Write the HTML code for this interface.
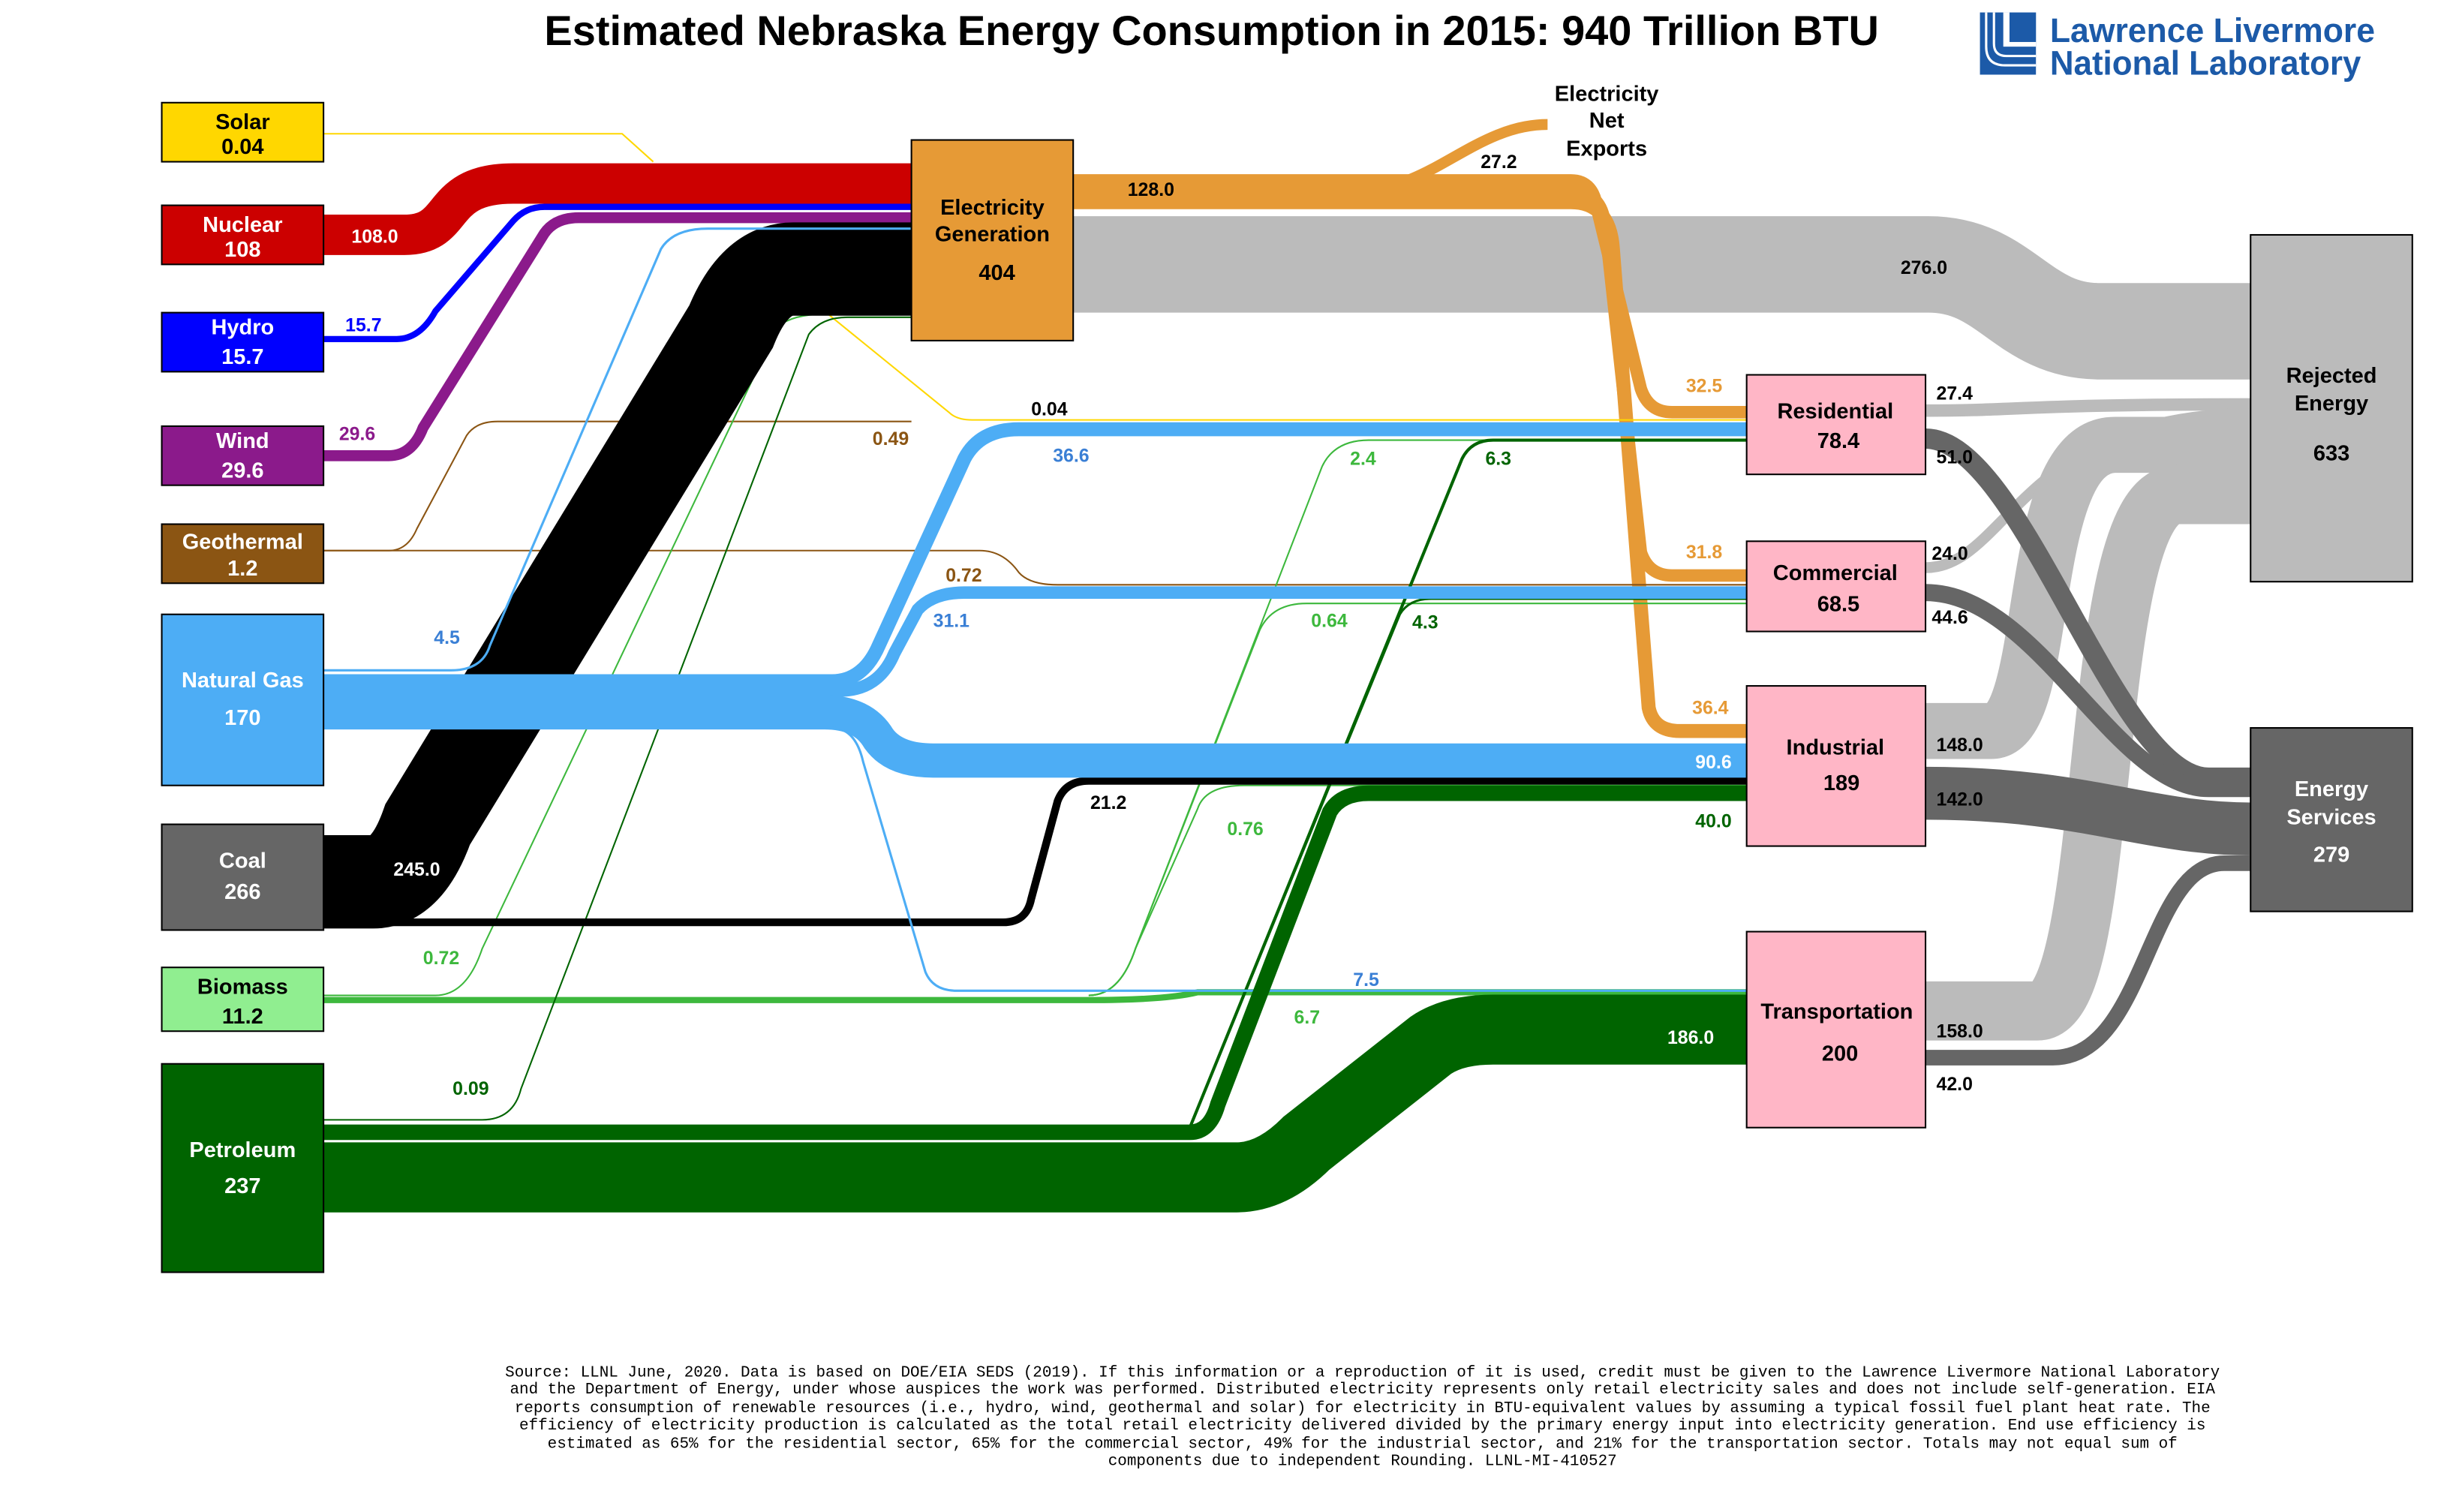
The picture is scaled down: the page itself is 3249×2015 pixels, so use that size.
<!DOCTYPE html>
<html><head><meta charset="utf-8"><style>
html,body{margin:0;padding:0;background:#fff}
svg{display:block}
text{font-family:"Liberation Sans",sans-serif;font-weight:bold}
</style></head><body>
<svg width="3249" height="2015" viewBox="0 0 1567.5 972" preserveAspectRatio="xMinYMin meet" xmlns="http://www.w3.org/2000/svg">
<rect width="1567.5" height="972" fill="#fff"/>
<text x="779" y="29" font-size="27" text-anchor="middle">Estimated Nebraska Energy Consumption in 2015: 940 Trillion BTU</text>
<!-- logo -->
<g fill="#1C5AA8">
<rect x="1273" y="8" width="36" height="40"/>
<rect x="1288" y="8" width="21" height="22" fill="#fff"/>
<rect x="1292" y="8" width="17" height="19" fill="#1C5AA8"/>
<path d="M1277 8v22q0 12 12 12h20" stroke="#fff" stroke-width="1.5" fill="none"/>
<path d="M1282 8v20q0 8 8 8h19" stroke="#fff" stroke-width="1.5" fill="none"/>
<text x="1318" y="27" font-size="22" textLength="209" lengthAdjust="spacingAndGlyphs">Lawrence Livermore</text>
<text x="1318" y="48" font-size="22" textLength="200" lengthAdjust="spacingAndGlyphs">National Laboratory</text>
</g>
<g fill="none" stroke-linecap="butt">
<path d="M690 170 H1240 C1290 170 1300 213 1350 213 H1447" stroke="#bbb" stroke-width="62"/>
<path d="M1238 264 C1300 264 1300 260 1447 260" stroke="#bbb" stroke-width="8"/>
<path d="M1238 365 C1290 365 1300 266 1447 266" stroke="#bbb" stroke-width="7"/>
<path d="M1238 470 H1280 C1320 470 1300 286 1360 286 H1447" stroke="#bbb" stroke-width="36"/>
<path d="M1238 650 H1310 C1360 650 1340 318 1400 318 H1447" stroke="#bbb" stroke-width="38"/>
<path d="M1238 282 C1300 282 1360 500 1420 500 H1447" stroke="#666" stroke-width="13"/>
<path d="M1238 381 C1310 381 1360 507 1420 507 H1447" stroke="#666" stroke-width="11"/>
<path d="M1238 510 C1340 510 1380 533 1447 533" stroke="#666" stroke-width="34"/>
<path d="M1238 680 H1320 C1380 680 1380 555 1430 555 H1447" stroke="#666" stroke-width="10"/>
<path d="M690 121 H880 C920 121 950 80 995 80" stroke="#E69A36" stroke-width="7"/>
<path d="M690 116 H1010 Q1025 116 1027 135 L1055 250 Q1060 265 1075 265 H1123" stroke="#E69A36" stroke-width="8"/>
<path d="M690 123 H1010 Q1030 123 1032 145 L1055 355 Q1060 370 1075 370 H1123" stroke="#E69A36" stroke-width="8"/>
<path d="M690 130 H1010 Q1035 130 1037 160 L1060 455 Q1063 470 1080 470 H1123" stroke="#E69A36" stroke-width="9"/>
<path d="M208 86 H400 L420 104" stroke="#FFD700" stroke-width="1"/>
<path d="M530 200 L610 265 Q615 270 625 270 H1123" stroke="#FFD700" stroke-width="1"/>
<path d="M208 151 H260 C295 151 280 118 330 118 H586" stroke="#CC0000" stroke-width="26"/>
<path d="M208 218 H255 Q270 218 280 200 L330 142 Q338 133 350 133 H586" stroke="#0000FF" stroke-width="4"/>
<path d="M208 293 H250 Q265 293 272 275 L350 150 Q357 140 372 140 H586" stroke="#8B1A8B" stroke-width="7"/>
<path d="M208 354 H250 Q262 354 268 340 L300 280 Q306 271 320 271 H586" stroke="#8B5513" stroke-width="1"/>
<path d="M208 354 H630 Q645 354 655 368 Q662 376 680 376 H1123" stroke="#8B5513" stroke-width="1"/>
<path d="M208 640 H280 Q300 640 310 610 L500 210 Q510 202 530 202 H586" stroke="#3DB83D" stroke-width="1"/>
<path d="M700 640 Q720 640 730 610 L850 300 Q858 283 880 283 H1123" stroke="#3DB83D" stroke-width="1"/>
<path d="M700 640 Q720 640 730 610 L810 405 Q818 388 840 388 H1123" stroke="#3DB83D" stroke-width="1"/>
<path d="M700 640 Q720 640 730 610 L770 520 Q775 505 800 505 H1123" stroke="#3DB83D" stroke-width="1"/>
<path d="M208 643 H700 Q750 643 770 638 H1123" stroke="#3DB83D" stroke-width="4"/>
<path d="M208 720 H310 Q330 720 335 700 L520 215 Q528 204 545 204 H586" stroke="#006400" stroke-width="1"/>
<path d="M765 725 L940 295 Q946 283 960 283 H1123" stroke="#006400" stroke-width="2"/>
<path d="M765 725 L900 395 Q906 385 920 385 H1123" stroke="#006400" stroke-width="1.5"/>
<path d="M208 567 H240 Q262 567 275 530 L470 210 Q485 173 510 173 H586" stroke="#000" stroke-width="60"/>
<path d="M208 593 H645 Q660 593 663 578 L680 515 Q685 502 700 502 H1123" stroke="#000" stroke-width="5"/>
<path d="M208 431 H290 Q310 431 315 415 L425 160 Q433 147 455 147 H586" stroke="#4DADF5" stroke-width="1.5"/>
<path d="M208 438 H535 Q555 438 565 415 L620 295 Q630 276 655 276 H1123" stroke="#4DADF5" stroke-width="9"/>
<path d="M208 444 H540 Q565 444 575 420 L590 392 Q600 381 620 381 H1123" stroke="#4DADF5" stroke-width="8"/>
<path d="M208 458 H530 Q555 458 565 475 Q575 489 600 489 H1123" stroke="#4DADF5" stroke-width="22"/>
<path d="M208 468 H535 Q550 468 555 490 L595 625 Q600 637 615 637 H1123" stroke="#4DADF5" stroke-width="1.5"/>
<path d="M208 728 H765 Q778 728 783 710 L855 522 Q862 510 880 510 H1123" stroke="#006400" stroke-width="10"/>
<path d="M208 757 H795 Q818 757 840 735 L920 672 Q935 662 960 662 H1123" stroke="#006400" stroke-width="45"/>
</g>
<g stroke="#000" stroke-width="1">
<rect x="104" y="66" width="104" height="38" fill="#FFD700"/>
<rect x="104" y="132" width="104" height="38" fill="#CC0000"/>
<rect x="104" y="201" width="104" height="38" fill="#0000FF"/>
<rect x="104" y="274" width="104" height="38" fill="#8B1A8B"/>
<rect x="104" y="337" width="104" height="38" fill="#8B5513"/>
<rect x="104" y="395" width="104" height="110" fill="#4DADF5"/>
<rect x="104" y="530" width="104" height="68" fill="#666"/>
<rect x="104" y="622" width="104" height="41" fill="#90EE90"/>
<rect x="104" y="684" width="104" height="134" fill="#006400"/>
<rect x="586" y="90" width="104" height="129" fill="#E69A36"/>
<rect x="1123" y="241" width="115" height="64" fill="#FFB6C6"/>
<rect x="1123" y="348" width="115" height="58" fill="#FFB6C6"/>
<rect x="1123" y="441" width="115" height="103" fill="#FFB6C6"/>
<rect x="1123" y="599" width="115" height="126" fill="#FFB6C6"/>
<rect x="1447" y="151" width="104" height="223" fill="#BBB"/>
<rect x="1447" y="468" width="104" height="118" fill="#666"/>
</g>
<g font-size="14" text-anchor="middle">
<text x="156" y="83">Solar</text><text x="156" y="99">0.04</text>
<text x="156" y="149" fill="#fff">Nuclear</text><text x="156" y="165" fill="#fff">108</text>
<text x="156" y="215" fill="#fff">Hydro</text><text x="156" y="234" fill="#fff">15.7</text>
<text x="156" y="288" fill="#fff">Wind</text><text x="156" y="307" fill="#fff">29.6</text>
<text x="156" y="353" fill="#fff">Geothermal</text><text x="156" y="370" fill="#fff">1.2</text>
<text x="156" y="442" fill="#fff">Natural Gas</text><text x="156" y="466" fill="#fff">170</text>
<text x="156" y="558" fill="#fff">Coal</text><text x="156" y="578" fill="#fff">266</text>
<text x="156" y="639">Biomass</text><text x="156" y="658">11.2</text>
<text x="156" y="744" fill="#fff">Petroleum</text><text x="156" y="767" fill="#fff">237</text>
<text x="638" y="138">Electricity</text><text x="638" y="155">Generation</text><text x="641" y="180">404</text>
<text x="1180" y="269">Residential</text><text x="1182" y="288">78.4</text>
<text x="1180" y="373">Commercial</text><text x="1182" y="393">68.5</text>
<text x="1180" y="485">Industrial</text><text x="1184" y="508">189</text>
<text x="1181" y="655">Transportation</text><text x="1183" y="682">200</text>
<text x="1499" y="246">Rejected</text><text x="1499" y="264">Energy</text><text x="1499" y="296">633</text>
<text x="1499" y="512" fill="#fff">Energy</text><text x="1499" y="530" fill="#fff">Services</text><text x="1499" y="554" fill="#fff">279</text>
<text x="1033" y="65">Electricity</text><text x="1033" y="82">Net</text><text x="1033" y="100">Exports</text>
</g>
<g font-size="12">
<text x="226" y="156" fill="#fff">108.0</text>
<text x="222" y="213" fill="#0000FF">15.7</text>
<text x="218" y="283" fill="#8B1A8B">29.6</text>
<text x="279" y="414" fill="#3a7fd5">4.5</text>
<text x="253" y="563" fill="#fff">245.0</text>
<text x="272" y="620" fill="#3DB83D">0.72</text>
<text x="291" y="704" fill="#006400">0.09</text>
<text x="725" y="126">128.0</text>
<text x="952" y="108">27.2</text>
<text x="1222" y="176">276.0</text>
<text x="663" y="267">0.04</text>
<text x="561" y="286" fill="#8B5513">0.49</text>
<text x="677" y="297" fill="#3a7fd5">36.6</text>
<text x="868" y="299" fill="#3DB83D">2.4</text>
<text x="955" y="299" fill="#006400">6.3</text>
<text x="608" y="374" fill="#8B5513">0.72</text>
<text x="600" y="403" fill="#3a7fd5">31.1</text>
<text x="843" y="403" fill="#3DB83D">0.64</text>
<text x="908" y="404" fill="#006400">4.3</text>
<text x="1084" y="252" fill="#E69A36">32.5</text>
<text x="1084" y="359" fill="#E69A36">31.8</text>
<text x="1088" y="459" fill="#E69A36">36.4</text>
<text x="1090" y="494" fill="#fff">90.6</text>
<text x="701" y="520">21.2</text>
<text x="789" y="537" fill="#3DB83D">0.76</text>
<text x="1090" y="532" fill="#006400">40.0</text>
<text x="870" y="634" fill="#3a7fd5">7.5</text>
<text x="832" y="658" fill="#3DB83D">6.7</text>
<text x="1072" y="671" fill="#fff">186.0</text>
<text x="1245" y="257">27.4</text>
<text x="1245" y="298">51.0</text>
<text x="1242" y="360">24.0</text>
<text x="1242" y="401">44.6</text>
<text x="1245" y="483">148.0</text>
<text x="1245" y="518">142.0</text>
<text x="1245" y="667">158.0</text>
<text x="1245" y="701">42.0</text>
</g>
<g font-size="10.1" text-anchor="middle" style="font-family:'Liberation Mono',monospace;font-weight:normal">
<text x="876" y="885" style="font-family:'Liberation Mono',monospace;font-weight:normal">Source: LLNL June, 2020. Data is based on DOE/EIA SEDS (2019). If this information or a reproduction of it is used, credit must be given to the Lawrence Livermore National Laboratory</text>
<text x="876" y="896" style="font-family:'Liberation Mono',monospace;font-weight:normal">and the Department of Energy, under whose auspices the work was performed. Distributed electricity represents only retail electricity sales and does not include self-generation.  EIA</text>
<text x="876" y="908" style="font-family:'Liberation Mono',monospace;font-weight:normal">reports consumption of renewable resources (i.e., hydro, wind, geothermal and solar) for electricity in BTU-equivalent values by assuming a typical fossil fuel plant heat rate.  The</text>
<text x="876" y="919" style="font-family:'Liberation Mono',monospace;font-weight:normal">efficiency of electricity production is calculated as the total retail electricity delivered divided by the primary energy input into electricity generation.  End use efficiency is</text>
<text x="876" y="931" style="font-family:'Liberation Mono',monospace;font-weight:normal">estimated as 65% for the residential sector, 65% for the commercial sector, 49% for the industrial sector, and 21% for the transportation sector.  Totals may not equal sum of</text>
<text x="876" y="942" style="font-family:'Liberation Mono',monospace;font-weight:normal">components due to independent Rounding. LLNL-MI-410527</text>
</g>
</svg>
</body></html>
